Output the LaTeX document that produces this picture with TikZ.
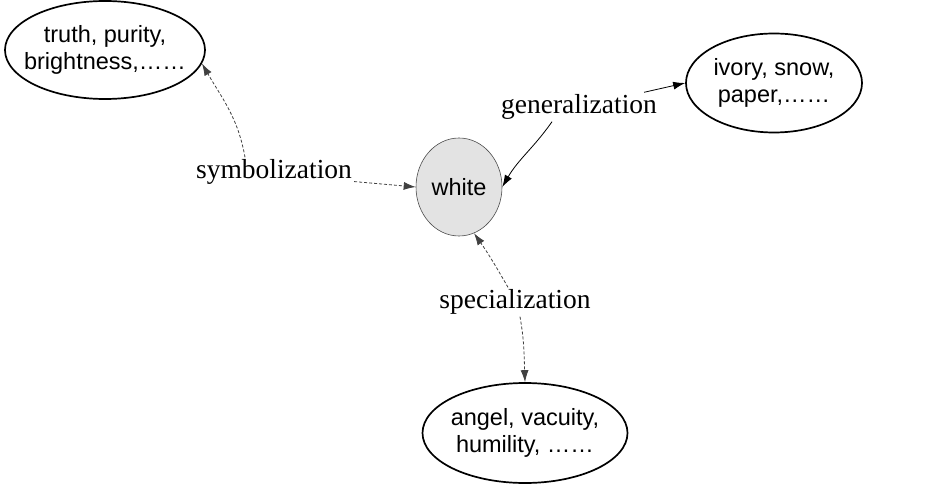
\documentclass[tikz,border=0pt]{standalone}
\usepackage{fontspec}
\setmainfont{Liberation Serif}
\setsansfont{Liberation Sans}
\usetikzlibrary{positioning, shapes.geometric, arrows.meta}

\begin{document}
\begin{tikzpicture}[x=1pt, y=1pt,
    concept/.style={ellipse, draw, line width=1.7pt, align=center, inner ysep=0pt, inner xsep=-12pt,
        font=\sffamily\fontsize{23.5}{27}\selectfont},
    relation/.style={font=\fontsize{27.5}{30}\selectfont, inner sep=2pt},
    link/.style={-{Latex[length=12pt, width=8pt]}, line width=0.8pt},
    weak/.style={link, densely dashed, black!75}]
    \useasboundingbox (0,0) rectangle (925,485);

    % Concepts
    \node[concept, minimum width=200pt, minimum height=98pt] (truth) at (105,435) {truth, purity,\\brightness,……};
    \node[concept, minimum width=176pt, minimum height=99pt] (ivory) at (774,402) {ivory, snow,\\paper,……};
    \node[concept, minimum width=205pt, minimum height=100pt] (angel) at (525,52) {angel, vacuity,\\humility, ……};
    \node[concept, line width=0.6pt, draw=black!70, fill=black!11, minimum width=86pt, minimum height=98pt] (white) at (459,298) {white};

    % Relations
    \node[relation] (symb) at (274,313) {symbolization};
    \node[relation] (gen) at (579,378) {generalization};
    \node[relation] (spec) at (515,183) {specialization};

    % Links
    \draw[weak] ([yshift=-3pt]symb.base east) -- (white.west);
    \draw[weak] ([xshift=-29pt]symb.north) to[out=100, in=-60] (truth.-8);
    \draw[link] ([xshift=-15pt]gen.north east) -- (ivory.west);
    \draw[link] ([xshift=-27pt]gen.south) to[out=-125, in=60] (white.east);
    \draw[weak] ([xshift=-7pt]spec.north) to[out=120, in=-55] (white.-72);
    \draw[weak] ([xshift=5pt]spec.south) to[out=-80, in=92] (angel.north);
\end{tikzpicture}
\end{document}
